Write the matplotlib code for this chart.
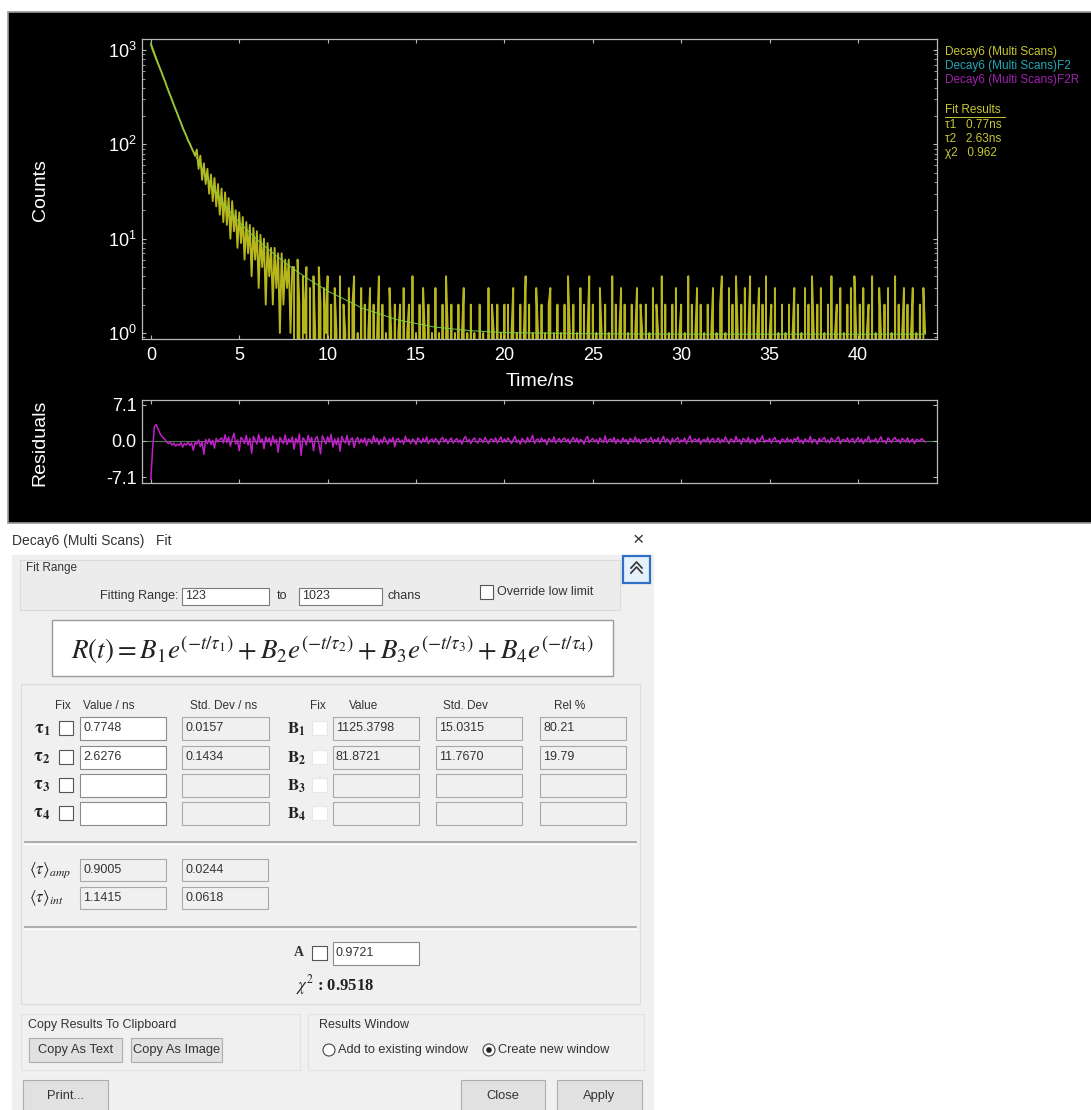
import numpy as np
import matplotlib
matplotlib.use('Agg')
import matplotlib.pyplot as plt
from matplotlib.patches import Rectangle, Circle

plt.rcParams['font.family'] = ['Liberation Sans', 'DejaVu Sans']
plt.rcParams['mathtext.fontset'] = 'stix'

W, H = 1091, 1110

# decay histogram, one value every 0.1 ns from t = 0
channel_width = 0.1
counts = [
    # 0.0 - 2.5 ns
    1150, 1010, 900, 805, 725, 650, 585, 520, 468, 412, 368, 330, 296, 262, 236, 212,
    188, 170, 150, 136, 124, 110, 102, 92, 84, 76,
    # 2.6 - 8.0 ns
    88, 55, 76, 42, 63, 38, 55, 30, 48, 25, 44, 22, 38, 18, 34, 15, 31, 14, 27, 10,
    25, 12, 20, 8, 19, 9, 17, 6, 15, 7, 14, 4, 13, 6, 12, 3, 11, 5, 10, 2,
    9, 4, 8, 2, 8, 3, 7, 1, 7, 2, 6, 3, 6, 1, 5,
    # 8.1 - 12.0 ns
    5, 0, 6, 2, 0, 4, 1, 5, 0, 3, 0, 4, 1, 0, 5, 2, 0, 3, 1, 4,
    0, 2, 0, 3, 1, 0, 4, 0, 2, 1, 0, 3, 0, 2, 4, 0, 1, 0, 3, 0,
    # 12.1 - 43.8 ns
    2, 0, 1, 3, 0, 2, 0, 1, 4, 0, 2, 0, 1, 0, 3, 1, 0, 2, 0, 1,
    2, 0, 3, 0, 1, 2, 0, 4, 0, 1, 0, 2, 0, 3, 1, 0, 2, 0, 1, 0,
    3, 0, 1, 0, 2, 0, 4, 1, 0, 2, 0, 1, 0, 2, 0, 1, 3, 0, 1, 0,
    2, 0, 1, 0, 0, 2, 0, 1, 0, 0, 3, 0, 2, 1, 0, 2, 0, 1, 0, 2,
    0, 2, 0, 1, 3, 0, 1, 0, 2, 0, 1, 4, 0, 2, 0, 1, 0, 3, 1, 0,
    2, 0, 1, 0, 2, 3, 0, 1, 0, 2, 0, 1, 0, 2, 0, 4, 1, 0, 2, 0,
    1, 0, 3, 0, 2, 0, 1, 4, 0, 2, 0, 1, 0, 3, 1, 0, 2, 0, 1, 0,
    4, 0, 2, 0, 1, 3, 0, 2, 0, 1, 0, 2, 0, 1, 3, 0, 2, 1, 0, 2,
    0, 1, 0, 3, 0, 2, 1, 0, 4, 0, 2, 0, 1, 0, 2, 0, 3, 0, 1, 2,
    0, 1, 0, 4, 0, 2, 0, 1, 3, 0, 2, 0, 1, 0, 2, 0, 1, 3, 0, 1,
    0, 2, 4, 0, 1, 0, 3, 0, 2, 0, 4, 1, 0, 2, 0, 3, 0, 1, 4, 0,
    2, 0, 1, 3, 0, 2, 0, 4, 0, 1, 2, 0, 3, 0, 1, 0, 2, 0, 1, 0,
    2, 0, 1, 3, 0, 2, 0, 1, 0, 3, 0, 2, 0, 4, 1, 0, 2, 0, 3, 0,
    1, 0, 2, 0, 4, 0, 1, 2, 0, 3, 0, 1, 0, 2, 0, 3, 0, 4, 1, 0,
    2, 0, 3, 0, 1, 2, 0, 4, 0, 1, 0, 3, 1, 0, 2, 0, 3, 0, 1, 0,
    4, 0, 2, 0, 1, 3, 0, 2, 0, 1, 3, 0, 1, 0, 2, 0, 3, 1,
]

residuals = [
    -7.5, -1.5, 2.8, 3.2, 2.4, 1.6, 1.0, 0.6, 0.3, -0.2, -0.5, -0.3, -0.8, -0.4, -1.0, -0.6, -0.9, -0.3, -1.2, -0.5,
    -0.8, -0.2, -0.9, -0.4, -1.8, -0.3, -0.6, 0.2, -1.1, -0.2, -2.6, 0.3, -0.5, 0.4, -0.7, 0.1, -1.4, 0.5, -0.2, 0.3,
    0.6, -0.4, 1.2, -0.3, 0.8, -1.0, 0.4, 1.5, -0.6, 0.2, -1.9, 0.7, 0.3, -0.5, 1.1, -0.8, 0.5, -2.4, 0.9, 0.2,
    -0.6, 1.3, -0.3, 0.4, -1.5, 0.8, -0.2, 0.6, -0.9, 1.0, -0.4, 0.3, -2.2, 0.7, 0.1, -0.5, 1.2, -0.7, 0.4, -0.3,
    0.8, -1.6, 0.5, -0.4, 1.4, -2.8, 0.6, 0.2, -0.8, 1.1, -0.3, 0.7, -1.9, 0.4, 0.9, -0.5, -2.5, 1.0, 0.3, -0.6,
    0.8, -0.2, 1.3, -1.2, 0.4, -0.7, 0.6, -2.0, 0.9, 0.1, -0.4, 1.1, -0.8, 0.3, 0.6, -1.3, 0.2, 0.7, -0.5, 0.4,
    -0.3, 0.6, -0.9, 0.4, 0.2, -0.5, 1.0, -0.2, 0.5, -0.7, 0.3, -0.4, 0.8, 0.1, -0.6, 0.4, -0.2, 0.7, -1.1, 0.3,
    0.5, -0.3, 0.2, -0.6, 0.9, -0.1, 0.3, -0.5, 0.4, 0.1, -0.7, 0.6, 0.2, -0.4, 0.5, -0.2, 0.8, -0.5, 0.1, 0.4,
    -0.3, 0.5, 0.1, -0.6, 0.3, 0.7, -0.2, 0.4, -0.5, 0.2, 0.6, -0.4, 0.1, 0.5, -0.3, 0.2, -0.6, 0.4, 0.9, -0.2,
    0.3, -0.5, 0.2, 0.6, -0.1, -0.4, 0.5, 0.2, -0.3, 0.7, 0.1, -0.5, 0.3, 0.4, -0.2, 0.6, -0.4, 0.2, 0.8, -0.3,
    0.4, -0.2, 0.6, 0.1, -0.5, 0.3, 0.9, -0.3, 0.2, -0.6, 0.5, 0.1, -0.4, 0.7, -0.2, 0.3, 1.1, -0.5, 0.2, 0.4,
    -0.3, 0.6, -0.1, 0.3, -0.7, 0.5, 0.2, -0.2, 0.8, -0.4, 0.1, 0.5, -0.3, 0.3, 0.6, -0.2, 0.4, -0.5, 0.2, 0.7,
    -0.2, 0.5, -0.4, 0.3, 0.1, -0.6, 0.4, 0.9, -0.3, 0.2, 0.5, -0.2, 0.3, -0.5, 0.6, 0.1, -0.3, 1.0, -0.4, 0.2,
    0.4, -0.2, 0.7, -0.5, 0.3, 0.1, -0.4, 0.6, -0.1, 0.3, -0.6, 0.5, 0.2, -0.3, 0.8, -0.2, 0.4, -0.5, 0.3, 0.1,
    0.5, -0.3, 0.2, 0.7, -0.4, 0.3, -0.1, 0.6, -0.5, 0.2, 0.9, -0.3, 0.4, 0.1, -0.6, 0.5, -0.2, 0.3, 0.7, -0.4,
    0.2, -0.1, 0.6, -0.5, 0.3, 1.0, -0.3, 0.2, 0.4, -0.2, 0.5, -0.6, 0.1, 0.3, -0.2, 0.7, -0.4, 0.2, 0.5, -0.3,
    0.1, 0.6, -0.4, 0.3, -0.2, 0.8, 0.1, -0.5, 0.4, 0.2, -0.3, 0.9, -0.1, 0.3, -0.6, 0.5, 0.2, -0.2, 0.7, -0.4,
    0.3, 0.1, -0.5, 0.6, -0.2, 0.4, 1.0, -0.3, 0.2, -0.1, 0.5, -0.4, 0.3, 0.7, -0.2, 0.1, -0.5, 0.4, 0.2, -0.3,
    0.6, -0.2, 0.3, -0.4, 0.5, 0.1, 0.8, -0.3, 0.2, -0.5, 0.4, 0.1, -0.2, 0.9, -0.4, 0.3, 0.2, -0.6, 0.5, -0.1,
    0.3, 0.7, -0.3, 0.2, -0.4, 0.6, 0.1, -0.2, 0.4, 0.8, -0.5, 0.2, 0.3, -0.1, 0.6, -0.3, 0.2, 0.5, -0.4, 0.1,
    0.7, -0.2, 0.4, -0.5, 0.3, 0.1, 0.9, -0.3, 0.2, -0.1, 0.5, -0.4, 0.3, 0.8, -0.2, 0.1, -0.5, 0.6, 0.2, -0.3,
    0.4, 0.7, -0.1, 0.3, -0.4, 0.5, 0.2, -0.2, 0.6, -0.3, 0.1, 0.4, -0.5, 0.3, 0.2, -0.1, 0.5, 0.1, -0.2,
]

# two-exponential fit curve (B1=1125.38, tau1=0.7748, B2=81.87, tau2=2.6276, A=0.9721)
fit_t = [0, 0.5, 1, 1.5, 2, 2.5, 3, 3.5, 4, 4.5, 5, 6, 7, 8, 9, 10, 12, 14, 16, 18, 20, 25, 30, 35, 40, 43.8]
fit_counts = [1208, 659, 366.5, 209.6, 124.4, 77.3, 50.5, 34.9, 25.3, 19.1, 14.95, 9.80, 6.81, 4.87,
              3.64, 2.79, 1.82, 1.37, 1.16, 1.06, 1.01, 0.98, 0.97, 0.97, 0.97, 0.97]

x_ticks = [0, 5, 10, 15, 20, 25, 30, 35, 40]
res_ticks = [-7.1, 0.0, 7.1]
res_tick_labels = ['-7.1', '0.0', '7.1']

legend_lines = [('Decay6 (Multi Scans)', '#c8c832'),
                ('Decay6 (Multi Scans)F2', '#20a8b8'),
                ('Decay6 (Multi Scans)F2R', '#a020b0')]
fit_summary = ['τ1   0.77ns', 'τ2   2.63ns', 'χ2   0.962']

tau_rows = [('0.7748', '0.0157', '1125.3798', '15.0315', '80.21'),
            ('2.6276', '0.1434', '81.8721', '11.7670', '19.79'),
            ('', '', '', '', ''),
            ('', '', '', '', '')]
mean_rows = [(r'$\langle\tau\rangle_{amp}$', '0.9005', '0.0244'),
             (r'$\langle\tau\rangle_{int}$', '1.1415', '0.0618')]
offset_A = '0.9721'
chi_sq = '0.9518'

time = np.arange(len(counts)) * channel_width

fig = plt.figure(figsize=(W / 100, H / 100), dpi=100)
fig.patch.set_facecolor('white')

# pixel canvas for the window chrome and dialog
bg = fig.add_axes([0, 0, 1, 1])
bg.set_xlim(0, W)
bg.set_ylim(H, 0)
bg.axis('off')

UI = '#333333'


def box(x0, y0, x1, y1, fc='white', ec='#7a7a7a', lw=0.8, z=2):
    bg.add_patch(Rectangle((x0, y0), x1 - x0, y1 - y0, facecolor=fc,
                           edgecolor=ec, linewidth=lw, zorder=z))


def label(x, y, s, size=9, ha='left', color=UI, **kw):
    bg.text(x, y, s, fontsize=size, ha=ha, va='center', color=color, zorder=5, **kw)


def button(x0, y0, x1, y1, s):
    box(x0, y0, x1, y1, fc='#e1e1e1', ec='#adadad')
    label((x0 + x1) / 2, (y0 + y1) / 2, s, size=9.3, ha='center')


# black plot window
box(8, 12, W + 2, 523, fc='black', ec='#9a9a9a', lw=1.2, z=1)

# axis titles
label(40, 190, 'Counts', size=14, ha='center', color='white', rotation=90)
label(540, 381, 'Time/ns', size=14, ha='center', color='white')
label(40, 443, 'Residuals', size=14, ha='center', color='white', rotation=90)

# legend and fit summary
for i, (s, c) in enumerate(legend_lines):
    label(945, 52 + 14 * i, s, size=8.5, color=c)
label(945, 110, 'Fit Results', size=8.5, color='#c8c832')
bg.plot([945, 1005], [117, 117], color='#c8c832', lw=0.7, zorder=5)
for i, s in enumerate(fit_summary):
    label(945, 125 + 14 * i, s, size=8.5, color='#c8c832')

# dialog
label(12, 541, 'Decay6 (Multi Scans)   Fit', size=10)
label(638, 541, '×', size=14, ha='center')
box(12, 555, 653, H + 2, fc='#f0f0f0', ec='#f0f0f0', z=1)

# fit range group
box(20, 560, 620, 610, fc='#ececec', ec='#dadada')
label(26, 568, 'Fit Range', size=8.5)
label(178, 596, 'Fitting Range:', ha='right')
box(182, 588, 269, 605)
label(185, 596, '123')
label(277, 596, 'to')
box(299, 588, 382, 605)
label(302, 596, '1023')
label(388, 596, 'chans')
box(480, 585, 493, 599, ec='#555555')
label(497, 592, 'Override low limit')

# collapse button
box(623, 556, 650, 583, fc='#e5f1fb', ec='#2f6fc6', lw=1.6)
for dy in (0, 5):
    bg.plot([631, 636.5, 642], [573 - dy, 567 - dy, 573 - dy], color='#333333', lw=1.2, zorder=6)

# model equation
box(52, 620, 613, 676, fc='white', ec='#9a9a9a', lw=1.0)
bg.text(332, 650, r'$R(t) = B_1e^{(-t/\tau_1)} + B_2e^{(-t/\tau_2)} + B_3e^{(-t/\tau_3)} + B_4e^{(-t/\tau_4)}$',
        fontsize=19.5, ha='center', va='center', color='#222222', zorder=5)

# lifetime table
box(21, 684, 640, 1004, fc='#f0f0f0', ec='#dcdcdc')
for x, s in [(55, 'Fix'), (83, 'Value / ns'), (190, 'Std. Dev / ns'), (310, 'Fix'),
             (349, 'Value'), (443, 'Std. Dev'), (554, 'Rel %')]:
    label(x, 706, s, size=8.5)

row_y = [728, 757, 785, 813]
for i, (yc, vals) in enumerate(zip(row_y, tau_rows)):
    y0, y1 = yc - 11.5, yc + 11.5
    bg.text(42, yc + 1, r'$\mathbf{\tau_%d}$' % (i + 1), fontsize=13, ha='center', va='center',
            color='#222222', zorder=5)
    box(59, yc - 7, 73, yc + 7, ec='#555555')
    box(80, y0, 166, y1, fc='white', ec='#8a8a8a')
    box(182, y0, 269, y1, fc='#f0f0f0', ec='#a8a8a8')
    bg.text(296, yc + 1, r'$\mathbf{B_%d}$' % (i + 1), fontsize=12, ha='center', va='center',
            color='#222222', zorder=5)
    box(312, yc - 7, 327, yc + 7, fc='white', ec='#e6e6e6')
    box(333, y0, 419, y1, fc='#f0f0f0', ec='#a8a8a8')
    box(436, y0, 522, y1, fc='#f0f0f0', ec='#a8a8a8')
    box(540, y0, 626, y1, fc='#f0f0f0', ec='#a8a8a8')
    for x, s in zip([83, 185, 336, 439, 543], vals):
        label(x, yc, s)

for ys in (842, 927):
    bg.plot([25, 636], [ys, ys], color='#a0a0a0', lw=1.2, zorder=4)
    bg.plot([25, 636], [ys + 1.5, ys + 1.5], color='white', lw=1.0, zorder=4)

for yc, (name, v, sd) in zip([870, 898], mean_rows):
    bg.text(29, yc, name, fontsize=12, ha='left', va='center', color='#222222', zorder=5)
    box(80, yc - 11, 166, yc + 11, fc='#f0f0f0', ec='#a8a8a8')
    box(182, yc - 11, 268, yc + 11, fc='#f0f0f0', ec='#a8a8a8')
    label(83, yc, v)
    label(185, yc, sd)

label(294, 953, 'A', size=10, fontweight='bold', family='Liberation Serif')
box(312, 946, 327, 960, ec='#555555')
box(333, 942, 419, 965, fc='white', ec='#8a8a8a')
label(336, 953, offset_A)
bg.text(296, 985, r'$\chi^2$' + ' : ' + chi_sq, fontsize=12, ha='left', va='center',
        color='#222222', fontweight='bold', family='Liberation Serif', zorder=5)

# clipboard and output groups
box(21, 1014, 300, 1070, fc='#f0f0f0', ec='#e2e2e2')
label(28, 1025, 'Copy Results To Clipboard')
button(29, 1038, 122, 1062, 'Copy As Text')
button(131, 1038, 222, 1062, 'Copy As Image')
box(308, 1014, 644, 1070, fc='#f0f0f0', ec='#e2e2e2')
label(319, 1025, 'Results Window')
bg.add_patch(Circle((329, 1050), 6, facecolor='white', edgecolor='#444444', lw=0.8, zorder=5))
label(338, 1050, 'Add to existing window', size=9.2)
bg.add_patch(Circle((489, 1050), 6, facecolor='white', edgecolor='#444444', lw=0.8, zorder=5))
bg.add_patch(Circle((489, 1050), 2.8, facecolor='#222222', edgecolor='none', zorder=6))
label(498, 1050, 'Create new window', size=9.2)

button(23, 1080, 108, 1112, 'Print...')
button(461, 1080, 545, 1112, 'Close')
button(557, 1080, 642, 1112, 'Apply')

# decay panel
grid_col = '#b8b8b8'
ax = fig.add_axes([142 / W, 1 - 339 / H, 795 / W, 300 / H])
ax.set_facecolor('black')
ax.set_yscale('log')
ax.plot(time, counts, color='#c8c81e', lw=1.35, alpha=0.92, zorder=2)
ax.plot(fit_t, fit_counts, color='#7ad050', lw=0.8, alpha=0.85, zorder=3)
ax.set_xlim(-0.5, 44.47)
ax.set_ylim(0.863, 1312)
ax.set_xticks(x_ticks)

# residual panel
axr = fig.add_axes([142 / W, 1 - 483 / H, 795 / W, 83 / H])
axr.set_facecolor('black')
axr.axhline(0, color='#4c7a4c', lw=0.8, zorder=1)
axr.plot(time, residuals, color='#c020c8', lw=1.1, zorder=2)
axr.set_xlim(-0.5, 44.47)
axr.set_ylim(-8.2, 8.0)
axr.set_xticks(x_ticks)
axr.set_xticklabels([])
axr.set_yticks(res_ticks)
axr.set_yticklabels(res_tick_labels)

for a in (ax, axr):
    for sp in a.spines.values():
        sp.set_color(grid_col)
        sp.set_linewidth(0.9)
    a.tick_params(which='both', direction='in', colors=grid_col, labelcolor='white',
                  labelsize=13, top=True, right=True)
    a.tick_params(which='major', length=3)
    a.tick_params(which='minor', length=2)
ax.tick_params(axis='x', pad=6)
ax.tick_params(axis='y', pad=4)
axr.tick_params(axis='y', pad=4)

fig.savefig('out.png', dpi=100, facecolor='white')
